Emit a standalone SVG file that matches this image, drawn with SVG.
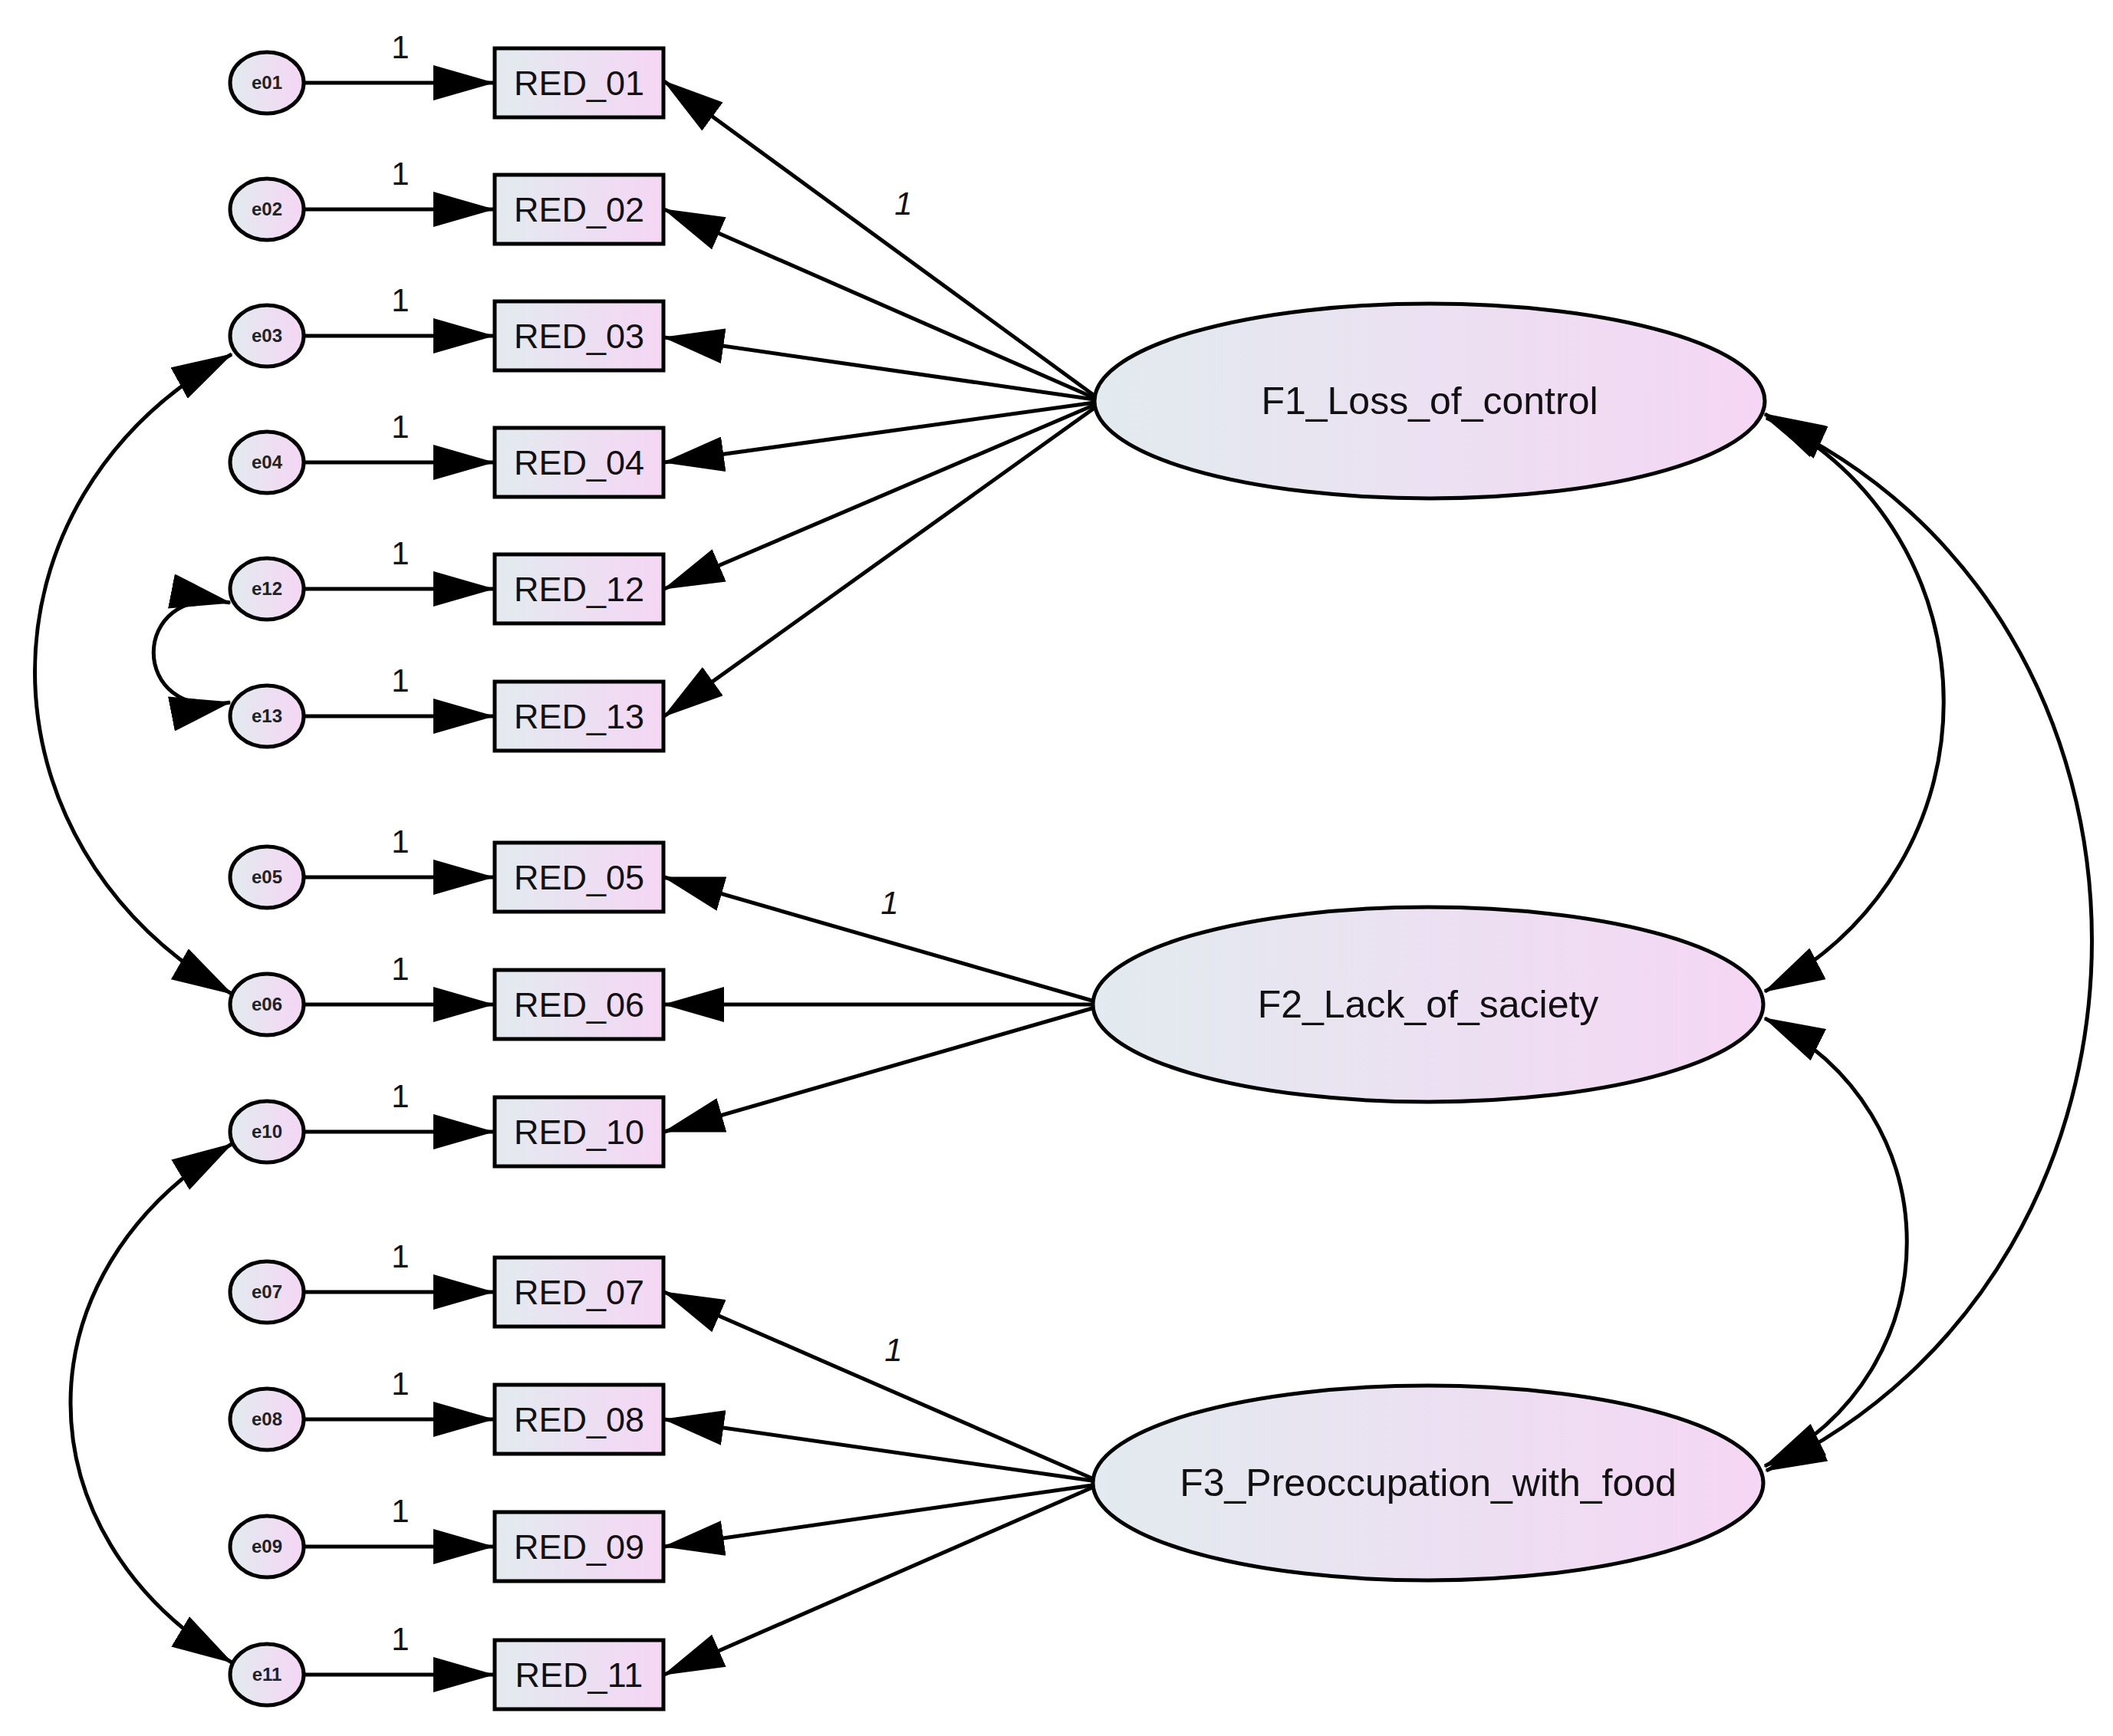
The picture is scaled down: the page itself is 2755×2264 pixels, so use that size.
<svg xmlns="http://www.w3.org/2000/svg" width="2755" height="2264" viewBox="0 0 2755 2264">
<style>
.n{stroke:#000;stroke-width:5}
.c{fill:none;stroke:#000;stroke-width:5}
.bt{font-family:"Liberation Sans",Arial,sans-serif;font-size:45px;fill:#111;text-anchor:middle}
.et{font-family:"Liberation Sans",Arial,sans-serif;font-size:24px;font-weight:bold;fill:#222;text-anchor:middle}
.ft{font-family:"Liberation Sans",Arial,sans-serif;font-size:50px;fill:#111;text-anchor:middle}
.one{font-family:"Liberation Sans",Arial,sans-serif;font-size:42px;fill:#111;text-anchor:middle}
.it{font-family:"Liberation Sans",Arial,sans-serif;font-size:42px;font-style:italic;fill:#111;text-anchor:middle}
</style>
<defs>
<linearGradient id="g" x1="0" y1="0" x2="1" y2="0"><stop offset="0" stop-color="#e2ebef"/><stop offset="1" stop-color="#f5d6f4"/></linearGradient>
<marker id="a" markerUnits="userSpaceOnUse" markerWidth="80" markerHeight="46" refX="78" refY="23" orient="auto-start-reverse"><path d="M0,0 L80,23 L0,46 z" fill="#000"/></marker>
</defs>
<rect width="2755" height="2264" fill="#fff"/>
<g id="connectors">
<g marker-end="url(#a)" class="c">
<line x1="396" y1="108" x2="643" y2="108"/><line x1="396" y1="273" x2="643" y2="273"/>
<line x1="396" y1="438" x2="643" y2="438"/><line x1="396" y1="603" x2="643" y2="603"/>
<line x1="396" y1="768" x2="643" y2="768"/><line x1="396" y1="934" x2="643" y2="934"/>
<line x1="396" y1="1144" x2="643" y2="1144"/><line x1="396" y1="1310" x2="643" y2="1310"/>
<line x1="396" y1="1476" x2="643" y2="1476"/><line x1="396" y1="1685" x2="643" y2="1685"/>
<line x1="396" y1="1851" x2="643" y2="1851"/><line x1="396" y1="2017" x2="643" y2="2017"/>
<line x1="396" y1="2184" x2="643" y2="2184"/>
<line x1="1427" y1="516" x2="866" y2="106"/><line x1="1427" y1="519" x2="866" y2="273"/>
<line x1="1427" y1="521" x2="866" y2="440"/><line x1="1427" y1="525" x2="866" y2="603"/>
<line x1="1427" y1="528" x2="866" y2="768"/><line x1="1427" y1="532" x2="866" y2="934"/>
<line x1="1424" y1="1305" x2="866" y2="1144"/><line x1="1424" y1="1310" x2="866" y2="1310"/>
<line x1="1424" y1="1315" x2="866" y2="1476"/>
<line x1="1424" y1="1928" x2="866" y2="1685"/><line x1="1424" y1="1931" x2="866" y2="1851"/>
<line x1="1424" y1="1937" x2="866" y2="2017"/><line x1="1424" y1="1940" x2="866" y2="2184"/>
</g>
<g marker-start="url(#a)" marker-end="url(#a)" class="c">
<path d="M302,462 C-40,650 -40,1100 302,1296"/>
<path d="M302,1492 C22,1660 22,2000 302,2168"/>
<path d="M300,786 C167,760 167,942 300,916"/>
<path d="M2301,540 C2612,700 2612,1130 2301,1293"/>
<path d="M2303,545 C2869,800 2869,1650 2303,1918"/>
<path d="M2301,1328 C2548,1450 2548,1790 2301,1912"/>
</g>
</g>
<g id="labels">
<text class="one" x="522" y="76">1</text><text class="one" x="522" y="241">1</text>
<text class="one" x="522" y="406">1</text><text class="one" x="522" y="571">1</text>
<text class="one" x="522" y="736">1</text><text class="one" x="522" y="902">1</text>
<text class="one" x="522" y="1112">1</text><text class="one" x="522" y="1278">1</text>
<text class="one" x="522" y="1444">1</text><text class="one" x="522" y="1653">1</text>
<text class="one" x="522" y="1819">1</text><text class="one" x="522" y="1985">1</text>
<text class="one" x="522" y="2152">1</text>
<text class="it" x="1178" y="280">1</text>
<text class="it" x="1160" y="1192">1</text>
<text class="it" x="1165" y="1775">1</text>
</g>
<g id="errors" fill="url(#g)">
<g id="e01"><ellipse class="n" cx="348" cy="108" rx="48" ry="40"/><text class="et" x="348" y="116">e01</text></g>
<g id="e02"><ellipse class="n" cx="348" cy="273" rx="48" ry="40"/><text class="et" x="348" y="281">e02</text></g>
<g id="e03"><ellipse class="n" cx="348" cy="438" rx="48" ry="40"/><text class="et" x="348" y="446">e03</text></g>
<g id="e04"><ellipse class="n" cx="348" cy="603" rx="48" ry="40"/><text class="et" x="348" y="611">e04</text></g>
<g id="e12"><ellipse class="n" cx="348" cy="768" rx="48" ry="40"/><text class="et" x="348" y="776">e12</text></g>
<g id="e13"><ellipse class="n" cx="348" cy="934" rx="48" ry="40"/><text class="et" x="348" y="942">e13</text></g>
<g id="e05"><ellipse class="n" cx="348" cy="1144" rx="48" ry="40"/><text class="et" x="348" y="1152">e05</text></g>
<g id="e06"><ellipse class="n" cx="348" cy="1310" rx="48" ry="40"/><text class="et" x="348" y="1318">e06</text></g>
<g id="e10"><ellipse class="n" cx="348" cy="1476" rx="48" ry="40"/><text class="et" x="348" y="1484">e10</text></g>
<g id="e07"><ellipse class="n" cx="348" cy="1685" rx="48" ry="40"/><text class="et" x="348" y="1693">e07</text></g>
<g id="e08"><ellipse class="n" cx="348" cy="1851" rx="48" ry="40"/><text class="et" x="348" y="1859">e08</text></g>
<g id="e09"><ellipse class="n" cx="348" cy="2017" rx="48" ry="40"/><text class="et" x="348" y="2025">e09</text></g>
<g id="e11"><ellipse class="n" cx="348" cy="2184" rx="48" ry="40"/><text class="et" x="348" y="2192">e11</text></g>
</g>
<g id="items" fill="url(#g)">
<g id="RED_01"><rect class="n" x="645" y="63" width="220" height="90"/><text class="bt" x="755" y="124">RED_01</text></g>
<g id="RED_02"><rect class="n" x="645" y="228" width="220" height="90"/><text class="bt" x="755" y="289">RED_02</text></g>
<g id="RED_03"><rect class="n" x="645" y="393" width="220" height="90"/><text class="bt" x="755" y="454">RED_03</text></g>
<g id="RED_04"><rect class="n" x="645" y="558" width="220" height="90"/><text class="bt" x="755" y="619">RED_04</text></g>
<g id="RED_12"><rect class="n" x="645" y="723" width="220" height="90"/><text class="bt" x="755" y="784">RED_12</text></g>
<g id="RED_13"><rect class="n" x="645" y="889" width="220" height="90"/><text class="bt" x="755" y="950">RED_13</text></g>
<g id="RED_05"><rect class="n" x="645" y="1099" width="220" height="90"/><text class="bt" x="755" y="1160">RED_05</text></g>
<g id="RED_06"><rect class="n" x="645" y="1265" width="220" height="90"/><text class="bt" x="755" y="1326">RED_06</text></g>
<g id="RED_10"><rect class="n" x="645" y="1431" width="220" height="90"/><text class="bt" x="755" y="1492">RED_10</text></g>
<g id="RED_07"><rect class="n" x="645" y="1640" width="220" height="90"/><text class="bt" x="755" y="1701">RED_07</text></g>
<g id="RED_08"><rect class="n" x="645" y="1806" width="220" height="90"/><text class="bt" x="755" y="1867">RED_08</text></g>
<g id="RED_09"><rect class="n" x="645" y="1972" width="220" height="90"/><text class="bt" x="755" y="2033">RED_09</text></g>
<g id="RED_11"><rect class="n" x="645" y="2139" width="220" height="90"/><text class="bt" x="755" y="2200">RED_11</text></g>
</g>
<g id="factors" fill="url(#g)">
<g id="F1"><ellipse class="n" cx="1864" cy="523" rx="437" ry="127"/><text class="ft" x="1864" y="540">F1_Loss_of_control</text></g>
<g id="F2"><ellipse class="n" cx="1862" cy="1310" rx="437" ry="127"/><text class="ft" x="1862" y="1327">F2_Lack_of_saciety</text></g>
<g id="F3"><ellipse class="n" cx="1862" cy="1934" rx="437" ry="127"/><text class="ft" x="1862" y="1951">F3_Preoccupation_with_food</text></g>
</g>
</svg>
